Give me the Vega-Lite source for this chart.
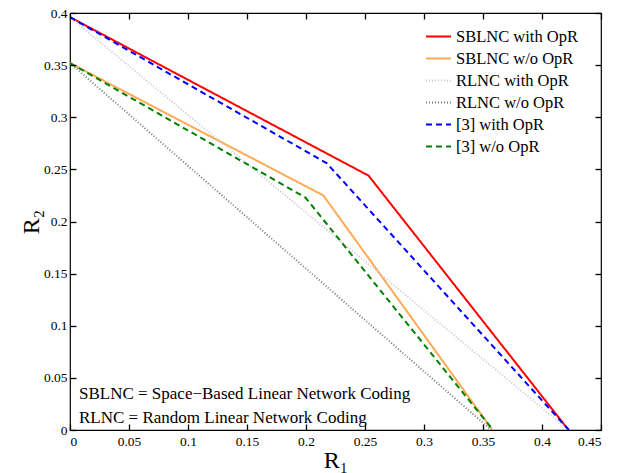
{
  "$schema": "https://vega.github.io/schema/vega-lite/v6.json",
  "width": 531,
  "height": 417,
  "autosize": {"type": "none"},
  "padding": {"left": 70, "top": 13, "right": 20, "bottom": 43},
  "background": "white",
  "config": {
    "font": "Liberation Serif",
    "view": {"stroke": "black", "strokeWidth": 1.2},
    "axis": {
      "grid": false,
      "domain": false,
      "labelFont": "Liberation Serif",
      "labelFontSize": 13.5,
      "labelColor": "black",
      "titleFont": "Liberation Serif",
      "titleFontWeight": "normal",
      "titleColor": "black",
      "titleFontSize": 24
    },
    "legend": {
      "labelFont": "Liberation Serif",
      "labelFontSize": 16.5,
      "labelColor": "black",
      "symbolType": "stroke",
      "symbolSize": 625,
      "labelOffset": 4,
      "rowPadding": 0
    }
  },
  "datasets": {
    "curves": [
      {"series": "SBLNC with OpR", "R1": 0, "R2": 0.396},
      {"series": "SBLNC with OpR", "R1": 0.253, "R2": 0.244},
      {"series": "SBLNC with OpR", "R1": 0.4225, "R2": 0},
      {"series": "SBLNC w/o OpR", "R1": 0, "R2": 0.352},
      {"series": "SBLNC w/o OpR", "R1": 0.2147, "R2": 0.225},
      {"series": "SBLNC w/o OpR", "R1": 0.358, "R2": 0},
      {"series": "RLNC with OpR", "R1": 0, "R2": 0.396},
      {"series": "RLNC with OpR", "R1": 0.4225, "R2": 0},
      {"series": "RLNC w/o OpR", "R1": 0, "R2": 0.352},
      {"series": "RLNC w/o OpR", "R1": 0.357, "R2": 0},
      {"series": "[3] with OpR", "R1": 0, "R2": 0.396},
      {"series": "[3] with OpR", "R1": 0.2175, "R2": 0.256},
      {"series": "[3] with OpR", "R1": 0.4228, "R2": 0},
      {"series": "[3] w/o OpR", "R1": 0, "R2": 0.352},
      {"series": "[3] w/o OpR", "R1": 0.1995, "R2": 0.223},
      {"series": "[3] w/o OpR", "R1": 0.3585, "R2": 0}
    ],
    "notes": [
      {"note": "SBLNC = Space−Based Linear Network Coding", "px": 0.0076, "py": 0.0346},
      {"note": "RLNC = Random Linear Network Coding", "px": 0.0076, "py": 0.0119}
    ]
  },
  "resolve": {"axis": {"x": "independent", "y": "independent"}},
  "layer": [
    {
      "data": {"name": "curves"},
      "mark": {"type": "line", "clip": true},
      "encoding": {
        "x": {
          "field": "R1", "type": "quantitative",
          "scale": {"domain": [0, 0.45], "nice": false, "zero": false},
          "axis": {"orient": "bottom", "title": "R₁", "values": [0, 0.05, 0.1, 0.15, 0.2, 0.25, 0.3, 0.35, 0.4, 0.45], "format": "~g", "ticks": true, "tickSize": 6, "tickWidth": 1.3, "tickColor": "#000000", "offset": -6, "zindex": 2, "labelPadding": 4, "titleY": 36, "titleBaseline": "middle"}
        },
        "y": {
          "field": "R2", "type": "quantitative",
          "scale": {"domain": [0, 0.4], "nice": false, "zero": false},
          "axis": {"orient": "left", "title": "R₂", "values": [0, 0.05, 0.1, 0.15, 0.2, 0.25, 0.3, 0.35, 0.4], "format": "~g", "ticks": true, "tickSize": 6, "tickWidth": 1.3, "tickColor": "#000000", "offset": -6, "zindex": 2, "labelPadding": 3, "titleX": -45, "titleBaseline": "middle"}
        },
        "order": {"field": "R1", "type": "quantitative"},
        "color": {
          "field": "series", "type": "nominal",
          "scale": {
            "domain": ["SBLNC with OpR", "SBLNC w/o OpR", "RLNC with OpR", "RLNC w/o OpR", "[3] with OpR", "[3] w/o OpR"],
            "range": ["#ff0000", "#ffaa55", "#c8c8c8", "#7a7a7a", "#0000ff", "#008000"]
          },
          "legend": {"title": null, "orient": "none", "legendX": 355, "legendY": 10}
        },
        "strokeDash": {
          "field": "series", "type": "nominal",
          "scale": {
            "domain": ["SBLNC with OpR", "SBLNC w/o OpR", "RLNC with OpR", "RLNC w/o OpR", "[3] with OpR", "[3] w/o OpR"],
            "range": [[1, 0], [1, 0], [1, 2], [1, 2], [6, 4], [6, 4]]
          },
          "legend": {"title": null, "orient": "none", "legendX": 355, "legendY": 10}
        },
        "strokeWidth": {
          "field": "series", "type": "nominal",
          "scale": {
            "domain": ["SBLNC with OpR", "SBLNC w/o OpR", "RLNC with OpR", "RLNC w/o OpR", "[3] with OpR", "[3] w/o OpR"],
            "range": [2, 2, 1.1, 1.1, 2.5, 2.5]
          },
          "legend": {"title": null, "orient": "none", "legendX": 355, "legendY": 10}
        }
      }
    },
    {
      "data": {"name": "notes"},
      "mark": {"type": "text", "align": "left", "baseline": "middle", "fontSize": 17, "font": "Liberation Serif", "color": "black"},
      "encoding": {
        "x": {"field": "px", "type": "quantitative", "axis": {"orient": "top", "labels": false, "title": null, "values": [0, 0.05, 0.1, 0.15, 0.2, 0.25, 0.3, 0.35, 0.4, 0.45], "ticks": true, "tickSize": 6, "tickWidth": 1.3, "tickColor": "#000000", "offset": -6, "zindex": 2}},
        "y": {"field": "py", "type": "quantitative", "axis": {"orient": "right", "labels": false, "title": null, "values": [0, 0.05, 0.1, 0.15, 0.2, 0.25, 0.3, 0.35, 0.4], "ticks": true, "tickSize": 6, "tickWidth": 1.3, "tickColor": "#000000", "offset": -6, "zindex": 2}},
        "text": {"field": "note", "type": "nominal"}
      }
    }
  ]
}
